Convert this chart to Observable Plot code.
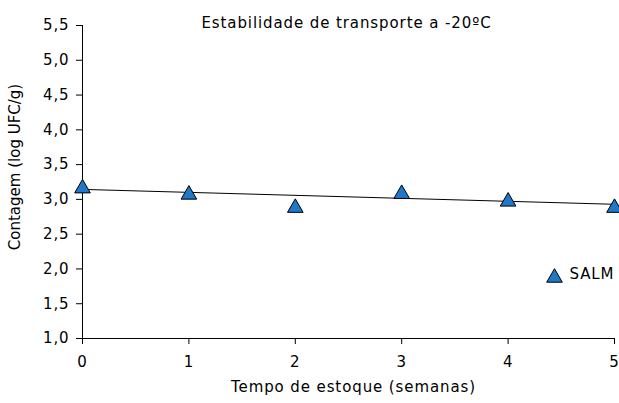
<!DOCTYPE html>
<html>
<head>
<meta charset="utf-8">
<script src="https://cdn.jsdelivr.net/npm/d3@7"></script>
<script src="https://cdn.jsdelivr.net/npm/@observablehq/plot@0.6"></script>
<style>
  html, body { margin: 0; padding: 0; background: #fff; }
  #chart svg { display: block; }
  #chart svg text { letter-spacing: 0.9px; }
</style>
</head>
<body>
<div id="chart"></div>
<script>
const weeks = [0, 1, 2, 3, 4, 5];
const salm = [3.19, 3.10, 2.91, 3.11, 3.00, 2.91];
const yTicks = [1.0, 1.5, 2.0, 2.5, 3.0, 3.5, 4.0, 4.5, 5.0, 5.5];
const xTicks = [0, 1, 2, 3, 4, 5];
const seriesName = "SALM";
const title = "Estabilidade de transporte a -20ºC";
const xLabel = "Tempo de estoque (semanas)";
const yLabel = "Contagem (log UFC/g)";

const data = weeks.map((w, i) => ({week: w, value: salm[i]}));
const fmtY = v => d3.format(".1f")(v).replace(".", ",");
const fmtX = d3.format("d");
const font = "DejaVu Sans, sans-serif";
const blue = "#1f78c8";
const fs = 15;

const chart = Plot.plot({
  width: 619,
  height: 403,
  marginLeft: 82,
  marginRight: 5,
  marginTop: 25,
  marginBottom: 65,
  style: {fontFamily: font, fontSize: fs + "px", color: "#000", background: "#fff"},
  x: {domain: [0, 5], ticks: xTicks},
  y: {domain: [1, 5.5], ticks: yTicks},
  marks: [
    Plot.axisX({ticks: xTicks, tickSize: 6, tickPadding: 12, tickFormat: fmtX, fontSize: fs, label: null}),
    Plot.axisY({ticks: yTicks, tickSize: 6, tickPadding: 7, tickFormat: fmtY, fontSize: fs, label: null}),
    Plot.ruleX([0], {stroke: "#000"}),
    Plot.ruleY([1], {stroke: "#000"}),
    Plot.linearRegressionY(data, {x: "week", y: "value", stroke: "#000", strokeWidth: 1, ci: 0}),
    Plot.dot(data, {x: "week", y: "value", symbol: "triangle", r: 5.8, dy: 2.2,
      fill: blue, stroke: "#000", strokeWidth: 1}),
    Plot.text([title], {frameAnchor: "top", dx: -2, dy: -8, fontSize: fs, fill: "#000"}),
    Plot.text([xLabel], {frameAnchor: "bottom", dx: 5, dy: 53, fontSize: fs, fill: "#000"}),
    Plot.text([yLabel], {frameAnchor: "left", textAnchor: "middle", rotate: -90, dx: -67, dy: -15,
      fontSize: fs, fill: "#000"}),
    Plot.dot([seriesName], {frameAnchor: "bottom-right", dx: -60, dy: -60.8, symbol: "triangle", r: 5.8,
      fill: blue, stroke: "#000", strokeWidth: 1}),
    Plot.text([seriesName], {frameAnchor: "bottom-right", dx: -45, dy: -60, textAnchor: "start",
      fontSize: fs, fill: "#000"})
  ]
});
d3.select(chart).selectAll("text").filter(function () { return this.textContent === yLabel; })
  .style("letter-spacing", "0px");
document.getElementById("chart").appendChild(chart);
</script>
</body>
</html>
